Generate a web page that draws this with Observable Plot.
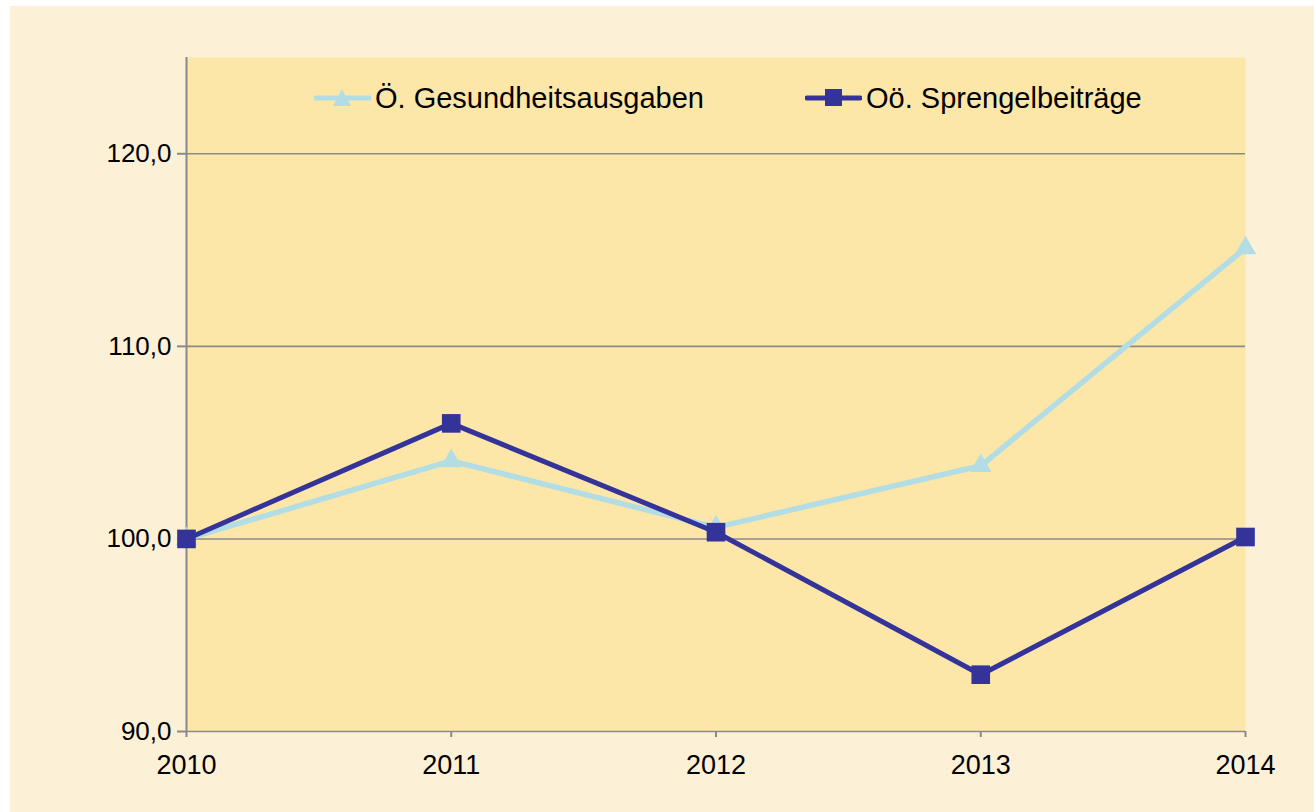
<!DOCTYPE html>
<html><head><meta charset="utf-8">
<script src="https://cdn.jsdelivr.net/npm/d3@7"></script>
<script src="https://cdn.jsdelivr.net/npm/@observablehq/plot@0.6"></script>
<style>
html,body{margin:0;padding:0;background:#fff;width:1314px;height:812px;overflow:hidden;}
#page{position:absolute;left:10px;top:6px;width:1304px;height:806px;background:#fcf0d7;}
#chart{position:absolute;left:0;top:0;}
.leg{position:absolute;display:flex;align-items:center;font-family:"Liberation Sans",Arial,sans-serif;font-size:29px;color:#000;white-space:nowrap;}
.leg svg{display:block;margin-right:4px;}
</style></head>
<body>
<div id="page"></div>
<div id="chart"></div>
<script>
const years = [2010, 2011, 2012, 2013, 2014];
const gesundheit = [100.0, 104.05, 100.6, 103.8, 115.1];
const sprengel = [100.0, 106.0, 100.35, 92.95, 100.1];
const seriesNames = ["Ö. Gesundheitsausgaben", "Oö. Sprengelbeiträge"];
const seriesColors = ["#b3dde5", "#333399"];
const yTicks = [90, 100, 110, 120];

const dataG = years.map((x, i) => ({x, y: gesundheit[i]}));
const dataS = years.map((x, i) => ({x, y: sprengel[i]}));

const fmt = d => d.toFixed(1).replace(".", ",");

const chart = Plot.plot({
  width: 1314,
  height: 812,
  marginLeft: 186,
  marginRight: 69,
  marginTop: 57,
  marginBottom: 81,
  style: {background: "transparent", fontFamily: "Liberation Sans, Arial, sans-serif", fontSize: "27px", color: "black"},
  x: {domain: [2010, 2014]},
  y: {domain: [90, 125]},
  marks: [
    Plot.frame({fill: "#fce6a8", stroke: null}),
    Plot.ruleY(yTicks, {stroke: "#8a8a8a", strokeWidth: 1.6}),
    Plot.ruleX([2010], {stroke: "#8a8a8a", strokeWidth: 2}),
    Plot.axisY({ticks: yTicks, tickSize: 9, tickPadding: 6, tickFormat: fmt, stroke: "#8a8a8a", strokeWidth: 2, fill: "black", fontSize: 26, label: null}),
    Plot.axisX({ticks: years, tickSize: 6, tickPadding: 17, tickFormat: d => String(d), stroke: "#8a8a8a", strokeWidth: 2, fill: "black", fontSize: 27, label: null}),
    Plot.lineY(dataG, {x: "x", y: "y", stroke: seriesColors[0], strokeWidth: 5.5}),
    Plot.dot(dataG, {x: "x", y: "y", symbol: "triangle", r: 8, fill: seriesColors[0], stroke: null}),
    Plot.lineY(dataS, {x: "x", y: "y", stroke: seriesColors[1], strokeWidth: 5}),
    Plot.dot(dataS, {x: "x", y: "y", symbol: "square", r: 10.5, fill: seriesColors[1], stroke: null})
  ]
});
document.getElementById("chart").appendChild(chart);

// legend (HTML overlay inside plot area)
const legendItems = [
  {name: seriesNames[0], color: seriesColors[0], shape: "tri", left: 314},
  {name: seriesNames[1], color: seriesColors[1], shape: "sq", left: 805}
];
for (const it of legendItems) {
  const div = document.createElement("div");
  div.className = "leg";
  div.style.left = it.left + "px";
  div.style.top = "80px";
  const sym = it.shape === "tri"
    ? `<polygon points="28,9 37,26 19,26" fill="${it.color}"/>`
    : `<rect x="20" y="9" width="17" height="17" fill="${it.color}"/>`;
  div.innerHTML = `<svg width="57" height="36"><line x1="2" x2="55" y1="18" y2="18" stroke="${it.color}" stroke-width="5" stroke-linecap="round"/>${sym}</svg><span>${it.name}</span>`;
  document.body.appendChild(div);
}
</script>
</body></html>
